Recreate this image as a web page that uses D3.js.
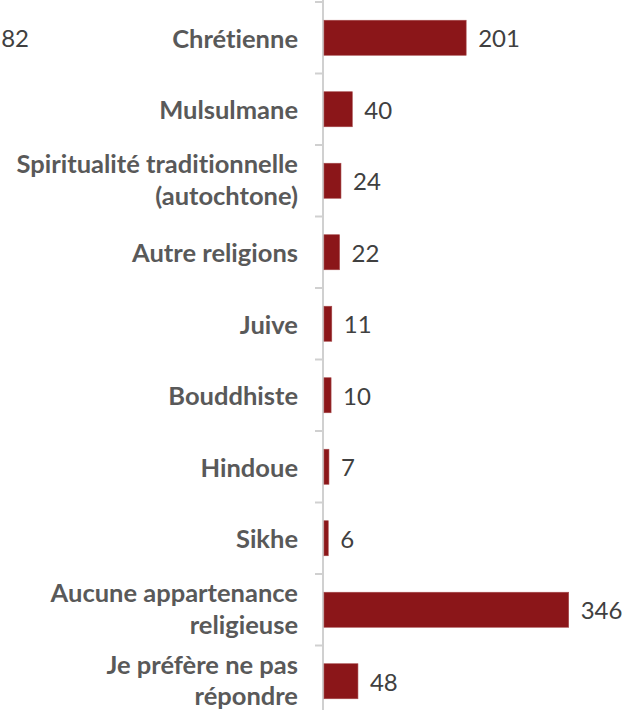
<!DOCTYPE html>
<html>
<head>
<meta charset="utf-8">
<script src="https://cdn.jsdelivr.net/npm/d3@7"></script>
<style>
  body { margin: 0; background: #fff; }
  svg { display: block; }
  text { font-variant-ligatures: none; }
</style>
</head>
<body>
<div id="chart"></div>
<script>
// Data
const categories = [
    ["Chrétienne"],
    ["Mulsulmane"],
    ["Spiritualité traditionnelle", "(autochtone)"],
    ["Autre religions"],
    ["Juive"],
    ["Bouddhiste"],
    ["Hindoue"],
    ["Sikhe"],
    ["Aucune appartenance", "religieuse"],
    ["Je préfère ne pas", "répondre"]
];
const values = [201, 40, 24, 22, 11, 10, 7, 6, 346, 48];
// leftover label from a neighbouring panel, cut by the frame
const strayLabel = "182";

const width = 633, height = 710;
const axisX = 323;
const bandTop = 2, bandStep = 71.5;
const fontFamily = "Lato, 'Open Sans', sans-serif";

const svg = d3.select("#chart")
    .append("svg")
    .attr("width", width)
    .attr("height", height);

const x = d3.scaleLinear()
    .domain([0, 346])
    .range([axisX + 1, axisX + 1 + 244.7]);

const y = d3.scaleBand()
    .domain(d3.range(categories.length))
    .range([bandTop, bandTop + bandStep * categories.length])
    .paddingInner(0.51)
    .paddingOuter(0.255);

// Axis line with ticks between categories
const tickPos = d3.range(categories.length + 1).map(i => bandTop + i * bandStep);
svg.append("line")
    .attr("x1", axisX).attr("x2", axisX)
    .attr("y1", 0).attr("y2", height)
    .attr("stroke", "#d0d0d0")
    .attr("stroke-width", 2);

svg.selectAll(".tick")
    .data(tickPos)
    .join("line")
    .attr("class", "tick")
    .attr("x1", axisX - 8).attr("x2", axisX)
    .attr("y1", d => d).attr("y2", d => d)
    .attr("stroke", "#d0d0d0")
    .attr("stroke-width", 2);

// Bars
svg.selectAll(".bar")
    .data(values)
    .join("rect")
    .attr("class", "bar")
    .attr("x", x(0))
    .attr("y", (d, i) => y(i))
    .attr("width", d => x(d) - x(0))
    .attr("height", y.bandwidth())
    .attr("fill", "#8b1619")
    .attr("stroke", "#a64a4c")
    .attr("stroke-width", 0.6);

// Value labels
svg.selectAll(".value")
    .data(values)
    .join("text")
    .attr("class", "value")
    .attr("x", d => x(d) + 12)
    .attr("y", (d, i) => y(i) + y.bandwidth() / 2)
    .attr("dominant-baseline", "central")
    .attr("font-family", fontFamily)
    .attr("font-size", "24px")
    .attr("fill", "#404040")
    .text(d => d);

// Category labels
const labels = svg.selectAll(".cat")
    .data(categories)
    .join("text")
    .attr("class", "cat")
    .attr("text-anchor", "end")
    .attr("font-family", fontFamily)
    .attr("font-weight", "bold")
    .attr("font-size", "25.5px")
    .attr("fill", "#595959");

labels.each(function(lines, i) {
    const cy = y(i) + y.bandwidth() / 2 - (lines.length > 1 ? 2 : 0);
    const lineH = 31.5;
    d3.select(this).selectAll("tspan")
        .data(lines)
        .join("tspan")
        .attr("x", 298)
        .attr("y", (d, j) => cy + (j - (lines.length - 1) / 2) * lineH)
        .attr("dominant-baseline", "central")
        .text(d => d);
});

svg.append("text")
    .attr("x", 29)
    .attr("y", y(0) + y.bandwidth() / 2)
    .attr("text-anchor", "end")
    .attr("dominant-baseline", "central")
    .attr("font-family", fontFamily)
    .attr("font-size", "24px")
    .attr("fill", "#404040")
    .text(strayLabel);
</script>
</body>
</html>
